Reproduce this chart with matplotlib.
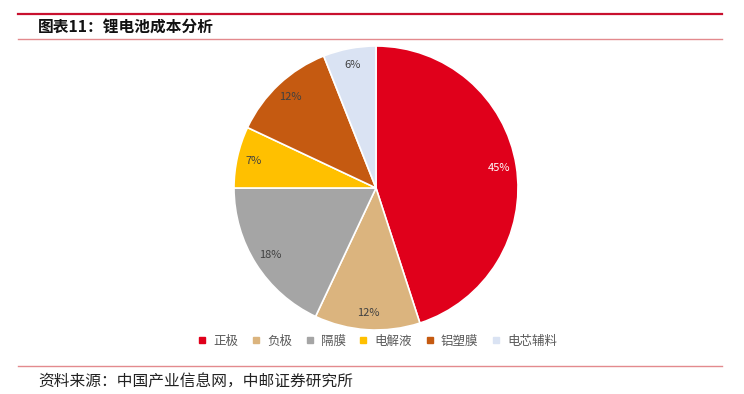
import matplotlib
matplotlib.use("Agg")
import matplotlib.pyplot as plt
from matplotlib.lines import Line2D

plt.rcParams['font.family'] = ['Noto Sans CJK SC', 'DejaVu Sans']

categories = ['正极', '负极', '隔膜', '电解液', '铝塑膜', '电芯辅料']
values = [45, 12, 18, 7, 12, 6]
colors = ['#E0001B', '#DBB47E', '#A5A5A5', '#FFC000', '#C55A11', '#DAE3F3']
title = '图表11：锂电池成本分析'
source = '资料来源：中国产业信息网，中邮证券研究所'

W, H = 744, 394
fig = plt.figure(figsize=(W/100, H/100), dpi=100)

def fx(x): return x / W
def fy(y): return 1 - y / H

# header / footer lines
fig.add_artist(Line2D([fx(18), fx(722)], [fy(14), fy(14)], color='#C8102E', lw=1.6))
fig.add_artist(Line2D([fx(18), fx(722)], [fy(39), fy(39)], color='#E38A8E', lw=1.0))
fig.add_artist(Line2D([fx(18), fx(722)], [fy(366), fy(366)], color='#E38A8E', lw=1.0))
fig.text(fx(38), fy(28), title, fontsize=11.3, fontweight='bold', color='#111111', va='center', ha='left')
fig.text(fx(38), fy(382), source, fontsize=11.3, color='#222222', va='center', ha='left')

cx, cy, r = 376, 188, 142
ax = fig.add_axes([fx(cx - r), fy(cy + r), 2*r/W, 2*r/H])
wedges, texts, autotexts = ax.pie(values, colors=colors, startangle=90, counterclock=False,
                                  autopct='%1.0f%%', pctdistance=0.88,
                                  wedgeprops=dict(edgecolor='white', linewidth=1.2),
                                  textprops=dict(fontsize=8, color='#404040'))
autotexts[0].set_color('white')
ax.set_aspect('equal')
ax.set_xlim(-1, 1)
ax.set_ylim(-1, 1)

handles = [Line2D([], [], marker='s', linestyle='', markersize=4, markerfacecolor=c, markeredgecolor=c) for c in colors]
fig.legend(handles, categories, loc='center', bbox_to_anchor=(fx(377), fy(341)), ncol=6,
           frameon=False, fontsize=9, labelcolor='#595959', handlelength=0.8, handletextpad=0.5,
           columnspacing=1.0)

fig.savefig('out.png', dpi=100)
